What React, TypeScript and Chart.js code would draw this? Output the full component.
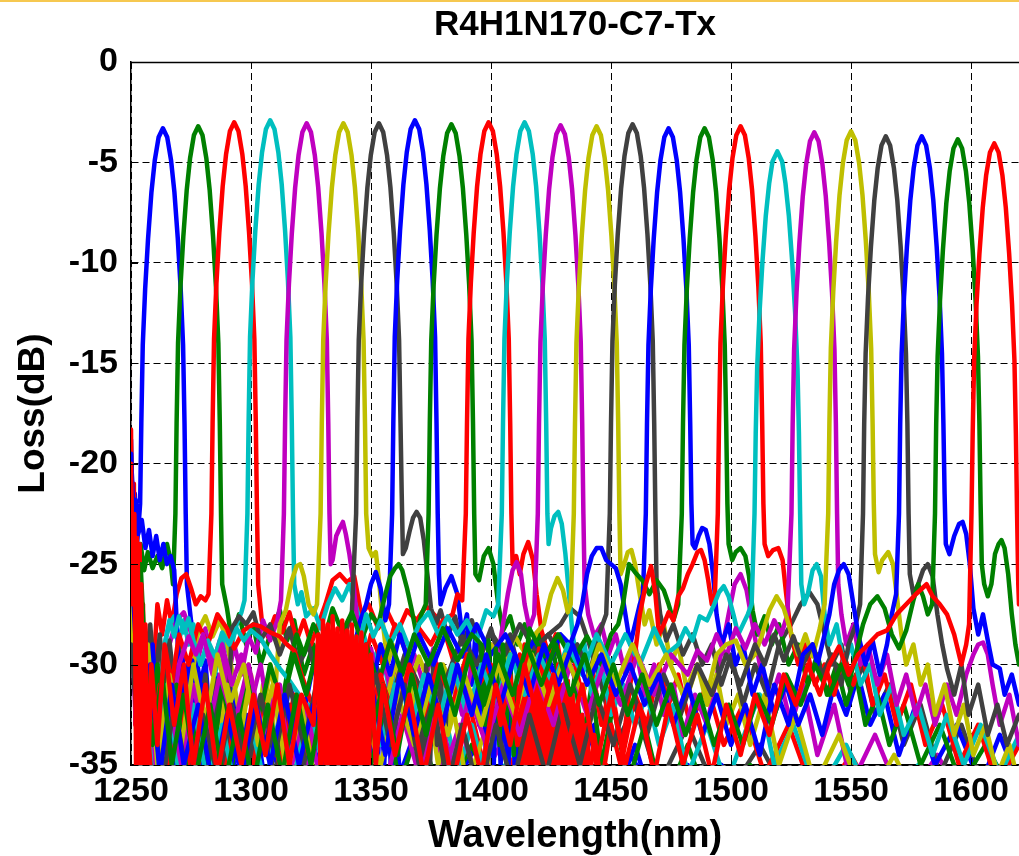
import React, { useEffect, useRef } from "react";
import { Chart, registerables } from "chart.js";

Chart.register(...registerables);

const TITLE = "R4H1N170-C7-Tx";
const X_LABEL = "Wavelength(nm)";
const Y_LABEL = "Loss(dB)";
const X_MIN = 1250;
const X_MAX = 1620;
const X_STEP = 50;
const Y_MIN = -35;
const Y_MAX = 0;
const Y_STEP = 5;

type Pt = [number, number];

// ch01 blue, centre ~1263 nm
const ch01: Pt[] = [[1250,-18.8],[1250.8,-23],[1251.6,-21.5],[1252.5,-24],[1253.2,-23],[1253.8,-22],[1254.3,-18],[1254.9,-14.1],[1255.9,-11.3],[1257.1,-8.8],[1258.5,-6.5],[1259.9,-4.9],[1261.5,-3.75],[1263.3,-3.3],[1265.1,-3.75],[1266.7,-4.9],[1268.1,-6.5],[1269.5,-8.8],[1270.7,-11.3],[1271.7,-14.1],[1272.3,-18],[1272.8,-22.5],[1273.3,-26],[1275,-27.8],[1277,-29.5],[1279,-31],[1281,-29.8],[1283,-33],[1286,-30.5],[1289,-34],[1292,-31],[1296,-35.5],[1301,-32],[1306,-36],[1312,-33],[1318,-37],[1326,-34],[1334,-37.5],[1340,-33],[1342,-30],[1343.5,-35],[1345,-30.5],[1346.5,-36],[1348,-31],[1349.5,-35.5],[1351,-30.2],[1352.5,-36],[1354,-31.5],[1355.5,-35],[1357,-31],[1358.5,-36],[1360,-32],[1362,-35.5],[1368,-33.5],[1380,-37],[1394,-34],[1408,-38],[1424,-35],[1440,-38],[1458,-34.5],[1476,-38],[1496,-35],[1516,-39],[1540,-36],[1565,-39],[1590,-36],[1620,-39]];

// ch02 green, ~1278 nm
const ch02: Pt[] = [[1250,-20.5],[1251,-23.5],[1252.5,-24.8],[1254,-24],[1255.5,-25.3],[1257,-24.4],[1259,-25.2],[1261,-24.6],[1263,-25.2],[1265,-24],[1266.5,-24.8],[1267.5,-26],[1268.5,-22.5],[1269,-18],[1269.6,-14],[1270.6,-11.2],[1271.8,-8.7],[1273.2,-6.4],[1274.6,-4.8],[1276.2,-3.65],[1278,-3.2],[1279.8,-3.65],[1281.4,-4.8],[1282.8,-6.4],[1284.2,-8.7],[1285.4,-11.2],[1286.4,-14],[1287,-18],[1287.5,-22.5],[1288,-26],[1290,-27.2],[1292,-28.8],[1295,-27.5],[1298,-29],[1301,-28],[1304,-30],[1308,-28.5],[1312,-27.3],[1315,-28.8],[1318,-27.8],[1322,-30.5],[1326,-29],[1330,-32],[1334,-30],[1338,-33.5],[1344,-31],[1350,-35],[1356,-32],[1362,-36],[1370,-33],[1380,-37],[1392,-34],[1405,-38],[1420,-35],[1436,-38.5],[1452,-35.5],[1470,-39],[1490,-36],[1512,-39],[1535,-36.5],[1560,-40],[1590,-37],[1620,-40]];

// ch03 red, ~1293 nm
const ch03: Pt[] = [[1250,-18.3],[1250.6,-26],[1251.2,-21],[1251.8,-33],[1252.4,-22.5],[1253,-35.5],[1253.6,-24],[1254.3,-36],[1255,-27],[1255.8,-36],[1256.6,-29],[1257.5,-36],[1259,-31],[1261,-27],[1263,-28.5],[1265,-26.8],[1267,-28],[1269,-26.5],[1271,-25.7],[1273,-25.5],[1275,-26.2],[1277,-27],[1279,-26.6],[1281,-26.8],[1282.3,-26.5],[1283.5,-22.5],[1284,-18],[1284.6,-13.8],[1285.6,-11],[1286.8,-8.5],[1288.2,-6.2],[1289.6,-4.6],[1291.2,-3.45],[1293,-3.0],[1294.8,-3.45],[1296.4,-4.6],[1297.8,-6.2],[1299.2,-8.5],[1300.4,-11],[1301.4,-13.8],[1302,-18],[1302.5,-22.5],[1303,-26],[1304.5,-27.8],[1307,-28.6],[1310,-27.6],[1313,-28.4],[1316,-27.4],[1319,-28.8],[1322,-27.8],[1325,-29],[1328,-28],[1331,-27],[1334,-25.8],[1337,-25.5],[1340,-25.9],[1343,-25.6],[1346,-27.5],[1349,-27],[1353,-28.2],[1357,-27.4],[1361,-28.4],[1365,-27.3],[1369,-27.8],[1373,-27.1],[1377,-27.6],[1381,-28.5],[1386,-30.5],[1391,-32],[1397,-35],[1404,-33],[1412,-36.5],[1422,-34],[1434,-38],[1448,-35],[1464,-38.5],[1482,-35.5],[1500,-39],[1522,-36],[1546,-39.5],[1572,-37],[1598,-40],[1620,-38]];

// ch04 cyan, ~1308 nm
const ch04: Pt[] = [[1250,-24],[1252,-29],[1254,-33],[1257,-30],[1260,-34],[1263,-29.5],[1266,-28],[1268,-27.6],[1270,-28.8],[1272,-27.8],[1274,-29],[1276,-28],[1279,-30],[1282,-29],[1285,-30.5],[1288,-28.5],[1291,-29.5],[1294,-28],[1296,-27.4],[1297.3,-26.8],[1298.5,-22.5],[1299,-18],[1299.6,-13.7],[1300.6,-10.9],[1301.8,-8.4],[1303.2,-6.1],[1304.6,-4.5],[1306.2,-3.35],[1308,-2.9],[1309.8,-3.35],[1311.4,-4.5],[1312.8,-6.1],[1314.2,-8.4],[1315.4,-10.9],[1316.4,-13.7],[1317,-18],[1317.5,-22.5],[1318,-26],[1319.5,-27],[1321,-26.4],[1323,-27.6],[1326,-27.2],[1329,-28.2],[1332,-27],[1335,-26.2],[1338,-26.8],[1341,-26],[1344,-27.2],[1347,-28.5],[1350,-30],[1354,-29],[1358,-31.5],[1362,-30],[1366,-33],[1370,-31],[1375,-34],[1380,-32],[1386,-35.5],[1392,-33],[1400,-36.5],[1410,-34],[1422,-37.5],[1436,-35],[1452,-38],[1470,-35.5],[1490,-39],[1512,-36],[1536,-39.5],[1562,-37],[1590,-40],[1620,-38]];

// ch05 magenta, ~1323 nm
const ch05: Pt[] = [[1250,-25],[1252,-31],[1255,-35.5],[1258,-31],[1262,-34],[1266,-29],[1269,-27.8],[1272,-27.4],[1275,-28.4],[1278,-29.7],[1281,-28.2],[1284,-30],[1287,-28.8],[1290,-31],[1293,-29],[1296,-30.5],[1299,-28.6],[1302,-29.4],[1305,-27.8],[1308,-28.8],[1311,-27.8],[1312.5,-26.8],[1313.7,-22.5],[1314.2,-18],[1314.8,-13.85],[1315.8,-11.05],[1317,-8.55],[1318.4,-6.25],[1319.8,-4.65],[1321.4,-3.5],[1323.2,-3.05],[1325,-3.5],[1326.6,-4.65],[1328,-6.25],[1329.4,-8.55],[1330.6,-11.05],[1331.6,-13.85],[1332.2,-18],[1332.7,-22.5],[1333.2,-25],[1334,-24.8],[1335.5,-23.6],[1337,-23.2],[1338.3,-22.9],[1339.5,-23.5],[1341,-24.5],[1342.5,-25.8],[1344,-27.5],[1346,-28.8],[1348,-30],[1350,-29.2],[1353,-31],[1356,-30],[1360,-32.5],[1364,-31],[1369,-34],[1374,-32],[1380,-35.5],[1387,-33],[1395,-36],[1404,-34],[1414,-37],[1426,-35],[1440,-38],[1456,-35.5],[1474,-39],[1494,-36],[1516,-39.5],[1540,-37],[1566,-40],[1594,-37.5],[1620,-40]];

// ch06 yellow, ~1338.5 nm
const ch06: Pt[] = [[1250,-23.5],[1251,-27],[1253,-33],[1256,-30],[1259,-35],[1262,-31],[1266,-34],[1270,-30],[1274,-32],[1278,-28.3],[1281,-27.6],[1284,-28.6],[1287,-27.8],[1290,-28.8],[1293,-31],[1296,-33],[1299,-30],[1302,-34.5],[1305,-31],[1308,-35],[1310,-31.5],[1312,-28],[1314.5,-27.3],[1317,-25.8],[1319,-25.1],[1320.5,-25],[1322,-25.6],[1324,-27],[1326,-27.5],[1327.5,-27],[1329,-22.5],[1329.5,-18],[1330.1,-13.85],[1331.1,-11.05],[1332.3,-8.55],[1333.7,-6.25],[1335.1,-4.65],[1336.7,-3.5],[1338.5,-3.05],[1340.3,-3.5],[1341.9,-4.65],[1343.3,-6.25],[1344.7,-8.55],[1345.9,-11.05],[1346.9,-13.85],[1347.5,-18],[1348,-22.5],[1349,-24.2],[1350.5,-24.6],[1352,-24.4],[1353.5,-26],[1355,-28],[1357,-30],[1359,-29],[1362,-31.5],[1365,-30],[1369,-33],[1373,-31],[1378,-35],[1384,-32],[1390,-36],[1397,-33.5],[1405,-37],[1414,-34.5],[1424,-38],[1436,-35],[1450,-38.5],[1466,-35.5],[1484,-39],[1504,-36],[1526,-39.5],[1550,-37],[1576,-40],[1600,-37.5],[1620,-40]];

// ch07 grey, ~1353 nm
const ch07: Pt[] = [[1250,-22.6],[1251,-28],[1252.5,-32],[1254,-26.5],[1256,-30],[1258,-28],[1260,-31],[1262,-28.5],[1264,-31.7],[1266,-28.8],[1268,-31],[1270,-29],[1272,-32.5],[1275,-30],[1278,-33],[1281,-30.5],[1284,-34.5],[1285.5,-30.8],[1287,-34.7],[1288.5,-31],[1290,-34],[1292,-28.2],[1295,-27.6],[1298,-28],[1301,-27.4],[1304,-28.8],[1308,-28],[1312,-29.5],[1316,-28.2],[1320,-30],[1324,-29],[1328,-31],[1332,-29],[1336,-30],[1339,-28.5],[1342,-27.5],[1343.8,-22.5],[1344.3,-18],[1344.9,-13.85],[1345.9,-11.05],[1347.1,-8.55],[1348.5,-6.25],[1349.9,-4.65],[1351.5,-3.5],[1353.3,-3.05],[1355.1,-3.5],[1356.7,-4.65],[1358.1,-6.25],[1359.5,-8.55],[1360.7,-11.05],[1361.7,-13.85],[1362.3,-18],[1362.8,-21.5],[1363.3,-24.5],[1364.5,-24.2],[1366,-23.4],[1367.5,-22.7],[1369,-22.4],[1370.5,-22.7],[1372,-23.8],[1373.5,-25.5],[1375,-27.2],[1377,-28],[1379,-27.3],[1382,-28.6],[1385,-27.6],[1388,-29],[1392,-27.8],[1396,-29.5],[1400,-28.2],[1404,-30],[1408,-28.5],[1413,-31],[1418,-29.5],[1423,-28.6],[1429,-28],[1433,-27.2],[1437,-27.6],[1441,-29],[1446,-31],[1452,-34],[1460,-32],[1470,-36],[1482,-33],[1496,-37],[1512,-34],[1530,-38],[1550,-35],[1572,-38.5],[1596,-36],[1620,-39]];

// ch08 blue, ~1368 nm
const ch08: Pt[] = [[1250,-19.5],[1251,-22.5],[1252,-21.8],[1253,-23.5],[1254.5,-22.8],[1256,-24.2],[1257.5,-23.3],[1259,-24.6],[1260.5,-23.6],[1262,-24.8],[1263.5,-24],[1265,-25],[1266.5,-24.6],[1268,-25.3],[1269.5,-29],[1270.5,-34],[1271.5,-29.5],[1272.5,-35],[1273.5,-30],[1274.5,-35.5],[1275.5,-29.8],[1276.5,-34.5],[1277.5,-30.5],[1278.5,-35.5],[1279.5,-31],[1281,-35],[1283,-31.5],[1286,-35.5],[1290,-32],[1294,-36],[1298,-32.5],[1302,-36],[1306,-33],[1311,-35],[1316,-31],[1321,-33],[1326,-30],[1331,-32],[1336,-29],[1341,-30.5],[1345,-28],[1348,-27],[1350,-26],[1352,-25.4],[1354,-26.2],[1356,-27.8],[1357.5,-27],[1358.8,-22.5],[1359.3,-18],[1359.9,-13.7],[1360.9,-10.9],[1362.1,-8.4],[1363.5,-6.1],[1364.9,-4.5],[1366.5,-3.35],[1368.3,-2.9],[1370.1,-3.35],[1371.7,-4.5],[1373.1,-6.1],[1374.5,-8.4],[1375.7,-10.9],[1376.7,-13.7],[1377.3,-18],[1377.8,-22.5],[1378.3,-25.5],[1379,-27],[1381,-26.2],[1383.5,-25.6],[1386,-26.5],[1388,-28.5],[1390,-27.5],[1392,-31],[1393.5,-28.5],[1395,-33],[1396.5,-29.5],[1398,-35],[1399.5,-30],[1401,-35.5],[1402.5,-30.5],[1404,-35],[1405.5,-31],[1407,-36],[1408.5,-31],[1410,-35.5],[1412,-32],[1416,-33],[1420,-31],[1425,-35],[1430,-32],[1436,-36],[1443,-33],[1451,-37],[1460,-34],[1470,-38],[1482,-35],[1496,-38.5],[1512,-35.5],[1530,-39],[1550,-36],[1574,-39.5],[1598,-37],[1620,-40]];

// ch09 green, ~1383.5 nm
const ch09: Pt[] = [[1250,-21.5],[1251,-26],[1252.5,-30],[1254,-27],[1256,-32],[1258,-30.8],[1259.5,-35],[1261,-31],[1262.5,-35.5],[1264,-31.5],[1265.5,-35],[1267,-30.7],[1268.5,-35.5],[1270,-31.2],[1271.5,-35],[1273,-31.6],[1274.5,-35.5],[1276,-32],[1277.5,-36],[1279,-32.5],[1282,-36],[1286,-33],[1290,-36.5],[1295,-33],[1300,-35.5],[1305,-32],[1310,-34],[1315,-30.5],[1319,-28.5],[1322,-29.5],[1326,-28],[1330,-29],[1334,-27.2],[1338,-28.4],[1342,-27.4],[1346,-28.8],[1350,-27.5],[1353,-28],[1356,-26.5],[1358,-25.6],[1360,-25.2],[1361.5,-25],[1363,-25.3],[1365,-26.2],[1367,-27.3],[1369,-28.5],[1371,-27.5],[1372.8,-27],[1374,-22.5],[1374.5,-18],[1375.1,-13.9],[1376.1,-11.1],[1377.3,-8.6],[1378.7,-6.3],[1380.1,-4.7],[1381.7,-3.55],[1383.5,-3.1],[1385.3,-3.55],[1386.9,-4.7],[1388.3,-6.3],[1389.7,-8.6],[1390.9,-11.1],[1391.9,-13.9],[1392.5,-18],[1393,-22.5],[1393.5,-25.5],[1395,-25.8],[1397,-24.6],[1399,-24.2],[1401,-25],[1403,-27],[1405,-28.3],[1408,-27.6],[1411,-29],[1414,-28],[1417,-29.5],[1420,-28.5],[1423,-30],[1426,-29.3],[1429,-31.5],[1432,-33],[1435,-30.5],[1438,-34],[1442,-31],[1446,-35],[1451,-32],[1457,-36],[1464,-33],[1472,-37],[1482,-34],[1494,-38],[1508,-35],[1524,-38.5],[1542,-36],[1562,-39],[1585,-36.5],[1620,-39]];

// ch10 red, ~1399 nm
const ch10: Pt[] = [[1250,-21],[1251,-30],[1252,-24],[1253,-34],[1254.5,-27],[1256,-35],[1258,-30],[1261,-33.5],[1264,-29],[1267,-31],[1270,-28.5],[1274,-30],[1278,-28],[1282,-29],[1286,-27.5],[1290,-28.2],[1293,-29.2],[1297,-28.3],[1301,-28],[1304,-28.1],[1308,-28.4],[1312,-28.6],[1315,-29],[1318,-29.3],[1321,-30.5],[1324,-31.5],[1328,-33],[1332,-30],[1336,-32],[1340,-29],[1345,-31],[1350,-28.5],[1355,-30],[1360,-28],[1365,-29.5],[1370,-28.2],[1375,-29],[1380,-27.8],[1384,-27.5],[1386,-26.5],[1388,-26.8],[1389.5,-22.5],[1390,-18],[1390.6,-13.8],[1391.6,-11],[1392.8,-8.5],[1394.2,-6.2],[1395.6,-4.6],[1397.2,-3.45],[1399,-3.0],[1400.8,-3.45],[1402.4,-4.6],[1403.8,-6.2],[1405.2,-8.5],[1406.4,-11],[1407.4,-13.8],[1408,-18],[1408.5,-22.5],[1409,-25],[1410.5,-24.6],[1412,-25.5],[1413.5,-24.5],[1415.5,-23.9],[1417.5,-24.8],[1419,-26.5],[1421,-28.3],[1424,-29.5],[1427,-28.5],[1430,-30.5],[1434,-29.5],[1438,-31.5],[1442,-30],[1446,-33],[1450,-31],[1455,-34.5],[1460,-31.5],[1465,-33],[1470,-30],[1474,-32],[1478,-30.5],[1483,-33],[1490,-31],[1497,-34],[1505,-32],[1514,-35.5],[1524,-33],[1536,-37],[1550,-34.5],[1566,-38],[1584,-35.5],[1602,-39],[1620,-36.5]];

// ch11 cyan, ~1414 nm
const ch11: Pt[] = [[1250,-26],[1252,-31],[1255,-35],[1258,-30],[1261,-33],[1264,-29],[1266,-27.8],[1268,-28.6],[1270,-27.6],[1272,-28.4],[1274,-27.7],[1276,-28.8],[1279,-30],[1282,-28.8],[1285,-29.6],[1288,-28.4],[1291,-29],[1294,-28.2],[1297,-28.8],[1300,-28.3],[1304,-28.7],[1308,-29.5],[1312,-30.2],[1316,-30.8],[1320,-31.5],[1324,-32.3],[1327,-31.6],[1330,-30.6],[1333,-31],[1336,-29.5],[1339,-30],[1342,-28.5],[1345,-29],[1348,-27.5],[1351,-28.6],[1354,-27.8],[1358,-29],[1362,-28],[1366,-29.2],[1370,-28],[1374,-27.4],[1378,-28.5],[1382,-27.6],[1386,-28.5],[1390,-27.8],[1394,-28.8],[1398,-27.3],[1401,-27.6],[1403,-27],[1404.5,-22.5],[1405,-18],[1405.6,-13.8],[1406.6,-11],[1407.8,-8.5],[1409.2,-6.2],[1410.6,-4.6],[1412.2,-3.45],[1414,-3.0],[1415.8,-3.45],[1417.4,-4.6],[1418.8,-6.2],[1420.2,-8.5],[1421.4,-11],[1422.4,-13.8],[1423,-18],[1423.5,-22.5],[1424,-24],[1425,-23.2],[1426.5,-22.6],[1428,-22.4],[1429.5,-23],[1431,-24.5],[1432.5,-26.5],[1434,-28.5],[1436,-30],[1439,-29],[1442,-31.5],[1446,-30],[1450,-32.5],[1455,-31],[1460,-33],[1465,-31.5],[1470,-34],[1476,-32],[1482,-35.5],[1490,-33],[1498,-36],[1507,-33],[1512,-31.5],[1518,-35],[1526,-33],[1536,-36.5],[1548,-34],[1562,-37.5],[1578,-35],[1596,-38.5],[1620,-36]];

// ch12 magenta, ~1429 nm
const ch12: Pt[] = [[1250,-27],[1252,-33],[1255,-30],[1258,-35],[1262,-31],[1266,-34],[1270,-30],[1274,-28.6],[1277,-29.5],[1280,-28.5],[1284,-30.5],[1288,-29],[1292,-31],[1296,-29.5],[1300,-32],[1304,-30],[1308,-33],[1312,-31],[1316,-34.5],[1320,-32],[1324,-35],[1328,-33],[1332,-36],[1336,-33],[1340,-35],[1344,-31.5],[1348,-33],[1352,-30.5],[1356,-32],[1360,-30],[1364,-31.5],[1368,-29.5],[1372,-31],[1376,-29.2],[1380,-32],[1384,-30.5],[1388,-32.5],[1392,-30],[1396,-31],[1400,-29],[1403,-29.5],[1405,-28],[1407,-26.5],[1409,-25.3],[1410.7,-24.9],[1412.5,-25.5],[1414,-27],[1416,-28.2],[1418,-27.5],[1419.5,-22.5],[1420,-18],[1420.6,-13.95],[1421.6,-11.15],[1422.8,-8.65],[1424.2,-6.35],[1425.6,-4.75],[1427.2,-3.6],[1429,-3.15],[1430.8,-3.6],[1432.4,-4.75],[1433.8,-6.35],[1435.2,-8.65],[1436.4,-11.15],[1437.4,-13.95],[1438,-18],[1438.5,-22.5],[1439,-26],[1440.5,-27.5],[1443,-28.6],[1446,-28],[1449,-29.5],[1452,-28.5],[1456,-30.5],[1460,-29],[1464,-31.5],[1468,-30],[1472,-32.5],[1476,-31],[1480,-33.5],[1485,-31.5],[1490,-33],[1495,-30],[1499,-27.5],[1501.5,-26],[1504,-25.5],[1506.5,-26.3],[1509,-28],[1512,-30],[1516,-32],[1520,-30.5],[1525,-33],[1530,-31],[1536,-34.5],[1543,-32],[1550,-36],[1560,-33.5],[1572,-37],[1586,-34.5],[1602,-38],[1620,-35.5]];

// ch13 yellow, ~1444 nm
const ch13: Pt[] = [[1250,-23.5],[1251.5,-28],[1253,-34],[1255,-29],[1258,-35.5],[1262,-32],[1266,-36],[1270,-33],[1275,-36],[1280,-32],[1285,-35.5],[1290,-31],[1295,-34],[1300,-30.5],[1304,-33.5],[1308,-30],[1312,-33],[1316,-35.5],[1320,-32],[1325,-35],[1330,-31.5],[1335,-34],[1340,-30.5],[1345,-33],[1350,-30],[1355,-32.5],[1360,-30],[1365,-31.5],[1370,-29.6],[1375,-31.2],[1380,-30],[1385,-31.4],[1390,-29.5],[1395,-30.8],[1400,-29],[1405,-30],[1410,-28.6],[1415,-29.6],[1419,-28.4],[1422,-28],[1423,-27.5],[1425,-26.5],[1427.7,-25.7],[1430,-26.3],[1432,-27.4],[1433.2,-27],[1434.5,-22.5],[1435,-18],[1435.6,-14],[1436.6,-11.2],[1437.8,-8.7],[1439.2,-6.4],[1440.6,-4.8],[1442.2,-3.65],[1444,-3.2],[1445.8,-3.65],[1447.4,-4.8],[1448.8,-6.4],[1450.2,-8.7],[1451.4,-11.2],[1452.4,-14],[1453,-18],[1453.5,-22.5],[1454,-25.5],[1455.5,-25],[1457,-24.4],[1458.5,-24.3],[1460,-25],[1462,-26.5],[1464,-28],[1466,-27.3],[1469,-29],[1472,-28],[1475,-30],[1478,-29],[1482,-31.5],[1486,-30],[1490,-32],[1494,-30.5],[1498,-33],[1503,-31.5],[1508,-34],[1514,-31.5],[1520,-35],[1527,-32.5],[1535,-36],[1545,-33.5],[1556,-37],[1568,-34.5],[1582,-38],[1598,-35.5],[1620,-39]];

// ch14 grey, ~1459 nm
const ch14: Pt[] = [[1250,-22.6],[1251,-29],[1252.5,-25],[1254,-33],[1256,-29],[1259,-35],[1262,-31],[1266,-35.5],[1270,-32],[1275,-36],[1280,-33],[1286,-36.5],[1292,-33],[1298,-36],[1304,-32.5],[1310,-35.5],[1316,-32],[1322,-35],[1328,-31],[1334,-34],[1340,-30.5],[1346,-33],[1352,-30],[1358,-32],[1364,-29.5],[1370,-31],[1371.5,-35],[1373,-30],[1374.5,-35.5],[1376,-29.5],[1377.5,-34],[1379,-30],[1380.5,-35],[1382,-30.5],[1388,-28.6],[1394,-30],[1400,-28.4],[1406,-29.5],[1412,-28],[1418,-29.2],[1424,-28.5],[1430,-30],[1436,-29],[1441,-30.5],[1445,-28.5],[1448,-27.5],[1449.5,-22.5],[1450,-18],[1450.6,-13.9],[1451.6,-11.1],[1452.8,-8.6],[1454.2,-6.3],[1455.6,-4.7],[1457.2,-3.55],[1459,-3.1],[1460.8,-3.55],[1462.4,-4.7],[1463.8,-6.3],[1465.2,-8.6],[1466.4,-11.1],[1467.4,-13.9],[1468,-18],[1468.5,-22.5],[1469,-26],[1470.5,-27.5],[1473,-28.8],[1476,-28],[1480,-29.5],[1484,-28.5],[1488,-30],[1492,-29],[1496,-31],[1500,-29.5],[1505,-32],[1510,-30],[1515,-31.5],[1520,-29],[1525,-28],[1529,-27],[1532.7,-26.4],[1536,-27],[1539,-28.5],[1542,-30],[1546,-29],[1550,-31.5],[1555,-30],[1560,-32.5],[1566,-31],[1572,-34],[1579,-32],[1587,-35.5],[1596,-33],[1606,-36.5],[1620,-34]];

// ch15 blue, ~1474 nm
const ch15: Pt[] = [[1250,-24],[1252,-30],[1254,-27],[1256,-33],[1259,-29],[1262,-35],[1265,-31],[1269,-35.5],[1273,-32],[1278,-36],[1283,-33],[1289,-36.5],[1295,-33],[1301,-36],[1307,-32.5],[1313,-35.5],[1319,-32],[1325,-35],[1331,-31.5],[1337,-34],[1343,-30.5],[1349,-32],[1354,-29],[1358,-30.5],[1362,-28.5],[1366,-30],[1370,-28.5],[1376,-30],[1382,-28.2],[1388,-29.6],[1394,-28],[1400,-29.5],[1406,-28.5],[1412,-30],[1418,-28.8],[1424,-30],[1429,-28.5],[1433,-29],[1436,-28],[1438,-27],[1440,-25.5],[1442,-24.6],[1444,-24.2],[1446,-24.2],[1448,-24.8],[1450,-25],[1452,-25.2],[1454,-26],[1456,-27.5],[1458,-29],[1460,-28],[1462,-27],[1463.3,-26.5],[1464.5,-22.5],[1465,-18],[1465.6,-14.1],[1466.6,-11.3],[1467.8,-8.8],[1469.2,-6.5],[1470.6,-4.9],[1472.2,-3.75],[1474,-3.3],[1475.8,-3.75],[1477.4,-4.9],[1478.8,-6.5],[1480.2,-8.8],[1481.4,-11.3],[1482.4,-14.1],[1483,-18],[1483.5,-22],[1484,-24],[1485,-24.2],[1486.5,-23.6],[1488,-23.2],[1489.5,-23.3],[1491,-24],[1492.5,-25.5],[1494,-27.5],[1496,-29],[1499,-28],[1502,-30],[1505,-29],[1509,-31.5],[1513,-30],[1518,-32.5],[1523,-31],[1528,-33],[1533,-31.5],[1538,-33.5],[1543,-31],[1548,-32.5],[1553,-30.5],[1558,-33],[1564,-31.5],[1570,-34.5],[1577,-32],[1585,-35],[1594,-33],[1604,-36],[1612,-33.5],[1620,-36]];

// ch16 green, ~1489 nm
const ch16: Pt[] = [[1250,-22],[1251.5,-27],[1253,-32],[1255,-28],[1258,-33.5],[1261,-30],[1265,-34.5],[1269,-31],[1273,-35],[1278,-32],[1283,-35.5],[1288,-31],[1293,-34],[1298,-30.5],[1303,-33],[1308,-30],[1313,-32],[1318,-29.5],[1323,-31.5],[1328,-29],[1333,-31],[1338,-28.5],[1343,-30.5],[1348,-29],[1353,-31],[1358,-28.8],[1363,-30.5],[1368,-28.5],[1374,-30],[1380,-28.2],[1386,-29.8],[1392,-28.5],[1396,-29],[1397.5,-33],[1399,-28.8],[1400.5,-32.5],[1402,-29.2],[1403.5,-34],[1405,-29],[1406.5,-33],[1408,-29.5],[1409.5,-34.5],[1411,-30],[1412.5,-35],[1414,-30.5],[1416,-28.2],[1422,-29.6],[1428,-28.5],[1434,-29.8],[1440,-28.6],[1446,-30],[1450,-28.5],[1453,-28],[1455,-27],[1457.5,-25],[1460,-25.4],[1463,-25.8],[1466,-26.5],[1469,-25.8],[1472,-26.3],[1474,-27],[1476,-27.8],[1478,-27],[1479.5,-22.5],[1480,-18],[1480.6,-14.1],[1481.6,-11.3],[1482.8,-8.8],[1484.2,-6.5],[1485.6,-4.9],[1487.2,-3.75],[1489,-3.3],[1490.8,-3.75],[1492.4,-4.9],[1493.8,-6.5],[1495.2,-8.8],[1496.4,-11.3],[1497.4,-14.1],[1498,-18],[1498.5,-22],[1499,-24],[1500.5,-24.8],[1502,-24.4],[1504,-24.2],[1506,-24.6],[1507.5,-25.6],[1509,-27.3],[1511,-28.5],[1514,-27.6],[1517,-29],[1520,-28],[1524,-30],[1528,-29],[1532,-31],[1536,-29.5],[1540,-31.5],[1544,-30],[1548,-32],[1552,-30.5],[1556,-33],[1561,-31.5],[1566,-34],[1572,-32],[1579,-35],[1587,-33],[1596,-36],[1606,-34],[1620,-37]];

// ch17 red, ~1504 nm
const ch17: Pt[] = [[1250,-25],[1252,-32],[1255,-28],[1258,-35],[1262,-31],[1266,-35.5],[1271,-32],[1276,-36],[1282,-33],[1288,-36],[1294,-32.5],[1300,-35.5],[1306,-32],[1312,-35],[1318,-31.5],[1324,-34.5],[1330,-31],[1336,-34],[1342,-31],[1348,-33.5],[1354,-30.5],[1360,-33],[1366,-30],[1372,-32.5],[1378,-30],[1384,-32],[1390,-29.5],[1395,-31],[1400,-30],[1404,-33],[1408,-30.5],[1411,-34],[1412,-29.5],[1413,-35.5],[1414,-29],[1415,-35],[1416,-29.3],[1417,-36],[1418,-29.8],[1419,-35.5],[1420,-29.2],[1421,-36],[1422,-30],[1423,-35.2],[1424,-29.5],[1425,-36],[1426,-30.5],[1427,-35.5],[1428,-30],[1429,-36],[1430,-31],[1431,-35],[1432,-30.8],[1433,-36],[1434,-31.5],[1435,-35.5],[1436,-32],[1437,-36],[1438,-32.5],[1439,-35.5],[1440,-33],[1441,-36],[1443,-33.5],[1446,-36],[1450,-33],[1454,-35],[1458,-31],[1460,-29.5],[1462,-27.5],[1464.5,-26],[1466.7,-25.1],[1468.5,-26.5],[1470,-28.5],[1472,-28],[1474,-27.4],[1476,-27.8],[1478,-26.6],[1480,-26.2],[1482,-25.5],[1484,-25],[1486,-24.4],[1487.5,-24.3],[1489,-24.8],[1490.5,-25.8],[1492,-27],[1493.3,-26.5],[1494.5,-22.5],[1495,-18],[1495.6,-14],[1496.6,-11.2],[1497.8,-8.7],[1499.2,-6.4],[1500.6,-4.8],[1502.2,-3.65],[1504,-3.2],[1505.8,-3.65],[1507.4,-4.8],[1508.8,-6.4],[1510.2,-8.7],[1511.4,-11.2],[1512.4,-14],[1513,-18],[1513.5,-22],[1514,-24],[1515.5,-24.6],[1517.5,-24.3],[1519.7,-24.2],[1521.5,-24.8],[1523,-26.5],[1525,-28.5],[1528,-30],[1531,-29],[1535,-31],[1539,-30],[1543,-31.5],[1547,-29.5],[1551,-31],[1555,-29.5],[1559,-32],[1564,-30.5],[1569,-33],[1575,-31],[1581,-34],[1588,-32],[1595,-35],[1603,-33],[1611,-36],[1620,-34]];

// ch18 cyan, ~1519 nm
const ch18: Pt[] = [[1250,-26],[1253,-33],[1256,-29],[1260,-35],[1265,-31],[1270,-35.5],[1276,-32],[1282,-36],[1288,-33],[1294,-36.5],[1300,-33],[1306,-36],[1312,-32.5],[1318,-35.5],[1324,-32],[1330,-35],[1336,-31.5],[1342,-34.5],[1348,-31],[1354,-34],[1360,-31],[1366,-33.5],[1372,-30.5],[1378,-33],[1384,-30],[1390,-32.5],[1396,-30],[1402,-32],[1408,-29.5],[1414,-31.5],[1420,-29.5],[1426,-31],[1432,-29],[1438,-30.5],[1444,-28.5],[1450,-30],[1456,-28.5],[1462,-30],[1468,-28.2],[1473,-29.5],[1478,-29],[1481,-28.2],[1484,-28.8],[1487,-27.6],[1490,-27.8],[1493,-27],[1495,-26.4],[1497,-26.1],[1499,-26.6],[1501,-27.5],[1503,-28.5],[1505,-28],[1507,-27.5],[1508.6,-27],[1509.8,-22.5],[1510.3,-18.5],[1510.9,-15.25],[1511.9,-12.45],[1513.1,-9.95],[1514.5,-7.65],[1515.9,-6.05],[1517.3,-4.95],[1519.3,-4.45],[1521.3,-4.95],[1522.7,-6.05],[1524.1,-7.65],[1525.5,-9.95],[1526.7,-12.45],[1527.7,-15.25],[1528.3,-18.5],[1528.8,-22.5],[1529.3,-26],[1530.5,-27],[1532,-26.5],[1534,-25.3],[1535.7,-25],[1537.5,-25.6],[1539,-27.5],[1541,-29],[1544,-28],[1547,-30],[1550,-29],[1554,-31],[1558,-30],[1562,-32.5],[1567,-31],[1572,-33.5],[1578,-32],[1584,-34.5],[1590,-32.5],[1597,-35],[1604,-33],[1612,-35.5],[1620,-33.5]];

// ch19 magenta, ~1534.7 nm
const ch19: Pt[] = [[1250,-28],[1253,-34],[1257,-30],[1261,-36],[1266,-32],[1271,-35],[1276,-31],[1281,-34],[1287,-30.5],[1293,-33],[1299,-30],[1305,-33.5],[1311,-31],[1317,-35],[1323,-32],[1329,-36],[1335,-33],[1342,-36.5],[1349,-33],[1356,-36],[1363,-32.5],[1370,-35.5],[1377,-32],[1384,-35],[1391,-31.5],[1398,-34],[1405,-31],[1412,-33.5],[1419,-30.5],[1426,-33],[1433,-30],[1440,-32.5],[1447,-30],[1454,-32],[1461,-29.5],[1468,-31.5],[1475,-29.5],[1482,-30.5],[1486,-29.3],[1490,-29.8],[1494,-28.5],[1498,-29.6],[1502,-28.2],[1506,-29.2],[1510,-28],[1514,-29],[1518,-27.8],[1521,-28.5],[1523.5,-27.5],[1525.2,-22.5],[1525.7,-18],[1526.3,-14.3],[1527.3,-11.5],[1528.5,-9],[1529.9,-6.7],[1531.3,-5.1],[1532.9,-3.95],[1534.7,-3.5],[1536.5,-3.95],[1538.1,-5.1],[1539.5,-6.7],[1540.9,-9],[1542.1,-11.5],[1543.1,-14.3],[1543.7,-18],[1544.2,-22.5],[1544.7,-26],[1546,-27.5],[1548,-29],[1551,-28],[1554,-30],[1557,-29],[1561,-31],[1565,-29.5],[1569,-32],[1573,-30.5],[1577,-32.5],[1581,-31],[1585,-33],[1590,-31],[1594,-32.5],[1598,-30.5],[1601,-29.5],[1603,-29],[1605,-28.9],[1607,-29.5],[1609,-31],[1612,-33],[1616,-31.5],[1620,-34]];

// ch20 yellow, ~1550 nm
const ch20: Pt[] = [[1250,-27],[1253,-33],[1257,-29],[1261,-35],[1266,-30.5],[1271,-34],[1276,-30],[1281,-33],[1286,-29.5],[1291,-32],[1297,-30],[1303,-34],[1309,-31],[1315,-35.5],[1321,-32],[1327,-36],[1333,-33],[1340,-36],[1347,-32.5],[1354,-35],[1361,-31.5],[1368,-34],[1375,-31],[1382,-33.5],[1389,-30.5],[1396,-33],[1403,-30],[1410,-32.5],[1417,-29.5],[1424,-32],[1431,-29.5],[1438,-31.5],[1445,-29],[1452,-31],[1459,-29],[1466,-31],[1473,-29.5],[1480,-31.5],[1486,-30],[1490,-31.5],[1494,-29.5],[1498,-29],[1502,-28.8],[1506,-30],[1510,-29.5],[1513,-28.5],[1516,-27.3],[1519,-26.6],[1522,-27.2],[1525,-28.4],[1528,-29.5],[1531,-28.5],[1534,-29.6],[1537,-28.2],[1539,-27],[1540.5,-22.5],[1541,-18],[1541.6,-14.25],[1542.6,-11.45],[1543.8,-8.95],[1545.2,-6.65],[1546.6,-5.05],[1548.2,-3.9],[1550,-3.45],[1551.8,-3.9],[1553.4,-5.05],[1554.8,-6.65],[1556.2,-8.95],[1557.4,-11.45],[1558.4,-14.25],[1559,-18],[1559.5,-22],[1560,-24.5],[1561.5,-25.4],[1563,-24.8],[1565.5,-24.4],[1567.5,-25],[1569,-26.5],[1571,-28.5],[1573,-30],[1576,-29],[1579,-31],[1582,-30],[1585,-32.5],[1589,-31],[1593,-33.5],[1597,-32],[1601,-34.5],[1606,-33],[1611,-35.5],[1616,-34],[1620,-36]];

// ch21 grey, ~1564.5 nm
const ch21: Pt[] = [[1250,-29],[1254,-35],[1258,-31],[1263,-36],[1268,-32],[1274,-36],[1280,-32.5],[1286,-35.5],[1292,-32],[1298,-35],[1304,-31.5],[1310,-34.5],[1316,-31],[1322,-34],[1328,-30.5],[1334,-33.5],[1340,-30],[1346,-33],[1352,-30.5],[1358,-34],[1364,-31],[1370,-35],[1376,-32],[1382,-36],[1388,-33],[1395,-36.5],[1402,-33],[1409,-36],[1416,-32.5],[1423,-35.5],[1430,-32],[1437,-35],[1444,-31.5],[1451,-34],[1458,-31],[1465,-33.5],[1472,-30.5],[1479,-32.5],[1486,-30],[1492,-31.5],[1498,-29.5],[1504,-31],[1510,-29],[1514,-30],[1518,-28.5],[1522,-29.8],[1526,-28.6],[1530,-30],[1534,-29],[1538,-30.5],[1542,-29.5],[1546,-31],[1549,-29],[1552,-28],[1553.8,-27],[1555,-22.5],[1555.5,-18],[1556.1,-14.5],[1557.1,-11.7],[1558.3,-9.2],[1559.7,-6.9],[1561.1,-5.3],[1562.7,-4.15],[1564.5,-3.7],[1566.3,-4.15],[1567.9,-5.3],[1569.3,-6.9],[1570.7,-9.2],[1571.9,-11.7],[1572.9,-14.5],[1573.5,-18],[1574,-22.5],[1574.5,-25.5],[1576,-26.5],[1578,-26],[1580,-25.3],[1582,-25],[1584,-25.6],[1586,-27.5],[1588,-29],[1590,-30.2],[1593,-31.5],[1596,-30],[1599,-32.5],[1603,-31],[1607,-33.5],[1611,-32],[1615,-34],[1620,-32.5]];

// ch22 blue, ~1579.5 nm
const ch22: Pt[] = [[1250,-24.5],[1252,-29],[1255,-34],[1258,-30],[1262,-35.5],[1267,-31],[1272,-35],[1278,-32],[1284,-36],[1290,-32.5],[1296,-35.5],[1302,-32],[1308,-35],[1314,-31.5],[1320,-35],[1326,-32],[1332,-35.5],[1338,-31.5],[1344,-35],[1350,-31],[1356,-34.5],[1362,-30.5],[1368,-33.5],[1374,-30.5],[1380,-33],[1386,-30],[1392,-32.5],[1398,-29.5],[1404,-32],[1410,-29.5],[1416,-31.5],[1422,-29],[1428,-31],[1434,-29],[1440,-31],[1446,-29.5],[1452,-31.5],[1458,-30],[1464,-32],[1470,-30.5],[1476,-33],[1482,-31],[1488,-33.5],[1494,-31.5],[1500,-34],[1506,-32],[1512,-34.5],[1518,-31],[1524,-33],[1530,-29.5],[1534,-29],[1536,-30],[1538,-29],[1541,-27.5],[1543,-26],[1545,-25.3],[1547,-25],[1549,-25.5],[1551,-27],[1553,-28.5],[1556,-30],[1559,-28.8],[1562,-30.5],[1565,-29],[1567,-27.5],[1568.8,-26.5],[1570,-22.5],[1570.5,-18],[1571.1,-14.5],[1572.1,-11.7],[1573.3,-9.2],[1574.7,-6.9],[1576.1,-5.3],[1577.7,-4.15],[1579.5,-3.7],[1581.3,-4.15],[1582.9,-5.3],[1584.3,-6.9],[1585.7,-9.2],[1586.9,-11.7],[1587.9,-14.5],[1588.5,-18],[1589,-21.5],[1589.5,-24],[1591,-24.5],[1593,-23.6],[1595,-23],[1596.5,-22.9],[1598,-23.5],[1599.5,-25],[1601,-27.2],[1603,-28.5],[1605,-27.5],[1607,-28.8],[1609,-30],[1612,-30.2],[1614,-31.5],[1617,-30.5],[1620,-32]];

// ch23 green, ~1594.5 nm
const ch23: Pt[] = [[1250,-23],[1252,-28],[1254,-25],[1256,-30],[1259,-34],[1263,-30.5],[1267,-35],[1272,-31.5],[1277,-35.5],[1283,-32],[1289,-36],[1295,-32.5],[1301,-36],[1307,-32],[1313,-35.5],[1319,-31.5],[1325,-35],[1331,-31],[1337,-34.5],[1343,-30.5],[1349,-34],[1355,-31],[1361,-34.5],[1367,-30.5],[1373,-33.5],[1379,-30],[1385,-32.5],[1391,-29.5],[1397,-32],[1403,-29.5],[1409,-31.5],[1415,-29],[1421,-31],[1427,-29],[1433,-31.5],[1439,-29.5],[1445,-32],[1451,-30],[1457,-32.5],[1463,-30.5],[1469,-33],[1475,-31],[1481,-33.5],[1487,-31.5],[1493,-34],[1499,-32],[1505,-34],[1511,-31.5],[1517,-33],[1523,-30.5],[1529,-32],[1535,-30],[1541,-31.5],[1546,-30],[1549,-31],[1552,-29.5],[1555,-28],[1558,-27],[1561,-26.6],[1564,-27.2],[1567,-28.5],[1570,-29.2],[1573,-28.3],[1576,-26.8],[1578,-26],[1580,-26.6],[1582,-27.5],[1583.8,-27],[1585,-22.5],[1585.5,-18],[1586.1,-14.65],[1587.1,-11.85],[1588.3,-9.35],[1589.7,-7.05],[1591.1,-5.45],[1592.7,-4.3],[1594.5,-3.85],[1596.3,-4.3],[1597.9,-5.45],[1599.3,-7.05],[1600.7,-9.35],[1601.9,-11.85],[1602.9,-14.65],[1603.5,-18],[1604,-22],[1604.5,-25],[1605.5,-26],[1607,-26.6],[1608.5,-26],[1610,-24.5],[1611.5,-24],[1612.7,-23.8],[1614,-24.2],[1615.5,-25.5],[1617,-27.5],[1618.5,-29],[1620,-30]];

// ch24 red, ~1609.7 nm
const ch24: Pt[] = [[1250,-20],[1250.7,-27],[1251.4,-22.5],[1252.1,-35],[1252.8,-24],[1253.5,-36],[1254.3,-26],[1255,-35.5],[1256,-28],[1257,-36],[1258.5,-30],[1261,-34],[1264,-29],[1268,-33],[1272,-30],[1276,-35],[1281,-31],[1286,-35.5],[1291,-32],[1296,-35],[1301,-31.5],[1306,-34.5],[1311,-31],[1316,-35],[1321,-31.5],[1326,-33],[1328,-28.5],[1329,-35.5],[1330,-27.8],[1331,-35],[1332,-28],[1333,-36],[1334,-27.6],[1335,-35.5],[1336,-28.2],[1337,-36],[1338,-27.8],[1339,-35],[1340,-28.3],[1341,-36],[1342,-28],[1343,-35.5],[1344,-28.6],[1345,-36],[1346,-28.4],[1347,-35],[1348,-29],[1349,-36],[1350,-29.5],[1352,-35],[1355,-31],[1360,-34.5],[1366,-31.5],[1372,-35.5],[1378,-32],[1384,-36],[1390,-32.5],[1396,-35.5],[1402,-31],[1408,-34],[1414,-30],[1420,-33],[1426,-30.5],[1432,-34],[1438,-31],[1444,-35],[1450,-31.5],[1456,-35],[1462,-32],[1468,-35.5],[1474,-32],[1480,-35],[1486,-32.5],[1492,-35.5],[1498,-32],[1504,-34.5],[1510,-31.5],[1516,-33.5],[1522,-30.5],[1527,-32],[1532,-30],[1537,-31.5],[1541,-30],[1545,-29.1],[1549,-30.5],[1553,-29.5],[1557,-29],[1561,-28.5],[1565,-28.3],[1569,-27.5],[1573,-27],[1577,-26.5],[1581.5,-26],[1584,-26.6],[1587,-27],[1590,-27.5],[1593,-28.5],[1596,-30],[1598,-29],[1599.2,-28],[1600.2,-22.5],[1600.7,-18.5],[1601.3,-14.85],[1602.3,-12.05],[1603.5,-9.55],[1604.9,-7.25],[1606.3,-5.65],[1607.9,-4.5],[1609.7,-4.05],[1611.5,-4.5],[1613.1,-5.65],[1614.5,-7.25],[1615.9,-9.55],[1617.1,-12.05],[1618.1,-14.85],[1618.7,-18.5],[1619.2,-22.5],[1619.7,-26],[1620,-27]];

const channels: Pt[][] = [ch01, ch02, ch03, ch04, ch05, ch06, ch07, ch08, ch09, ch10, ch11, ch12, ch13, ch14, ch15, ch16, ch17, ch18, ch19, ch20, ch21, ch22, ch23, ch24];

const channelColors = [
  "#0000FF", "#008000", "#FF0000", "#00BFBF", "#BF00BF", "#BFBF00", "#404040",
  "#0000FF", "#008000", "#FF0000", "#00BFBF", "#BF00BF", "#BFBF00", "#404040",
  "#0000FF", "#008000", "#FF0000", "#00BFBF", "#BF00BF", "#BFBF00", "#404040",
  "#0000FF", "#008000", "#FF0000",
];

const FONT = "'Liberation Sans', Arial, Helvetica, sans-serif";

const framePlugin = {
  id: "matlabFrame",
  afterDatasetsDraw(chart: any) {
    const { ctx, chartArea: a, scales } = chart;
    ctx.save();
    ctx.strokeStyle = "#000";
    ctx.lineWidth = 1.5;
    ctx.beginPath();
    ctx.moveTo(a.left, a.top + 0.5);
    ctx.lineTo(a.right, a.top + 0.5);
    ctx.stroke();
    ctx.lineWidth = 1;
    const tl = 7;
    scales.x.ticks.forEach((t: any) => {
      const px = Math.round(scales.x.getPixelForValue(t.value)) + 0.5;
      ctx.beginPath();
      ctx.moveTo(px, a.bottom);
      ctx.lineTo(px, a.bottom - tl);
      ctx.moveTo(px, a.top);
      ctx.lineTo(px, a.top + tl);
      ctx.stroke();
    });
    scales.y.ticks.forEach((t: any) => {
      const py = Math.round(scales.y.getPixelForValue(t.value)) + 0.5;
      ctx.beginPath();
      ctx.moveTo(a.left, py);
      ctx.lineTo(a.left + tl, py);
      ctx.stroke();
    });
    ctx.restore();
  },
};

export default function App() {
  const canvasRef = useRef<HTMLCanvasElement | null>(null);

  useEffect(() => {
    document.body.style.margin = "0";
    const canvas = canvasRef.current;
    if (!canvas) return;
    const datasets = channels.map((data, i) => ({
      label: `CH${i + 1}`,
      data,
      borderColor: channelColors[i],
      backgroundColor: channelColors[i],
      borderWidth: 4.5,
      borderJoinStyle: "round",
      borderCapStyle: "round",
      pointRadius: 0,
      tension: 0,
      fill: false,
      clip: 0,
      order: channels.length - i,
    }));
    const chart = new Chart(canvas, {
      type: "line",
      data: { datasets },
      plugins: [framePlugin],
      options: {
        animation: false,
        responsive: false,
        devicePixelRatio: 1,
        layout: { padding: 0 },
        plugins: {
          legend: { display: false },
          tooltip: { enabled: false },
          title: {
            display: true,
            text: TITLE,
            fullSize: false,
            color: "#000",
            font: { family: FONT, size: 35, weight: "bold" },
            padding: { top: 4, bottom: 16 },
          },
        },
        scales: {
          x: {
            type: "linear",
            min: X_MIN,
            max: X_MAX,
            afterFit: (s: any) => { s.height = 91; },
            ticks: {
              stepSize: X_STEP,
              includeBounds: false,
              autoSkip: false,
              maxRotation: 0,
              color: "#000",
              padding: 6,
              font: { family: FONT, size: 34, weight: "bold" },
              callback: (v: any) => String(v),
            },
            grid: { color: "#000", lineWidth: 1, drawTicks: false },
            border: { display: true, color: "#000", width: 1.5, dash: [7, 4] },
            title: {
              display: true,
              text: X_LABEL,
              color: "#000",
              font: { family: FONT, size: 38, weight: "bold", lineHeight: 1 },
              padding: { top: 0, bottom: 0 },
            },
          },
          y: {
            type: "linear",
            min: Y_MIN,
            max: Y_MAX,
            afterFit: (s: any) => { s.width = 131; },
            ticks: {
              stepSize: Y_STEP,
              includeBounds: false,
              color: "#000",
              padding: 13,
              font: { family: FONT, size: 34, weight: "bold" },
              callback: (v: any) => String(v),
            },
            grid: { color: "#000", lineWidth: 1, drawTicks: false },
            border: { display: true, color: "#000", width: 1.5, dash: [7, 4] },
            title: {
              display: true,
              text: Y_LABEL,
              color: "#000",
              font: { family: FONT, size: 37, weight: "bold", lineHeight: 1 },
              padding: { top: 15, bottom: 0 },
            },
          },
        },
      },
    } as any);
    return () => chart.destroy();
  }, []);

  return (
    <div style={{ position: "fixed", left: 0, top: 0, width: 1019, height: 856, background: "#fff", overflow: "hidden" }}>
      <div style={{ position: "absolute", left: 0, top: 0, width: 1019, height: 2, background: "#F6C850" }} />
      <canvas ref={canvasRef} width={1019} height={856} style={{ display: "block" }} />
    </div>
  );
}
